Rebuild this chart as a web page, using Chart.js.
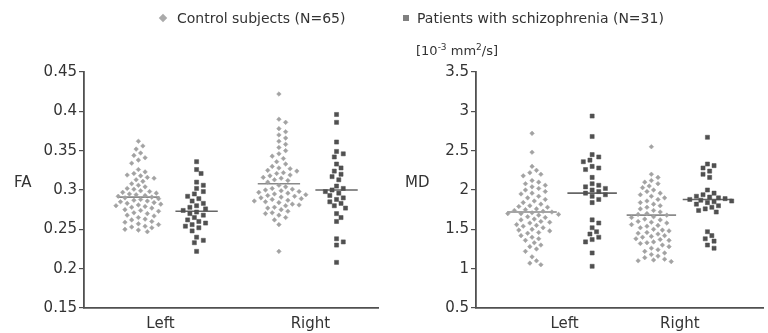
<!DOCTYPE html>
<html>
<head>
<meta charset="utf-8">
<script src="https://cdn.jsdelivr.net/npm/chart.js@4.4.1/dist/chart.umd.min.js"></script>
<style>
  body { margin: 0; background: #fff; }
  #wrap { position: relative; width: 768px; height: 333px; font-family: "DejaVu Sans", sans-serif; color: #333; }
  canvas { position: absolute; top: 0; }
  .txt { position: absolute; white-space: nowrap; line-height: 1; }
  .mark { position: absolute; width: 6px; height: 6px; }
</style>
</head>
<body>
<div id="wrap">
  <canvas id="faChart" width="384" height="333" style="left:0"></canvas>
  <canvas id="mdChart" width="384" height="333" style="left:384px"></canvas>

  <div class="mark" style="left:160px; top:15px; background:#aaa; transform:rotate(45deg)"></div>
  <div class="txt" style="left:177px; top:11px; font-size:14px">Control subjects (N=65)</div>
  <div class="mark" style="left:403px; top:15px; background:#808080"></div>
  <div class="txt" style="left:417px; top:11px; font-size:14px">Patients with schizophrenia (N=31)</div>

  <div class="txt" style="left:416px; top:43px; font-size:13px">[10<sup style="font-size:9px">-3</sup> mm<sup style="font-size:9px">2</sup>/s]</div>
  <div class="txt" style="left:14px; top:175px; font-size:15px">FA</div>
  <div class="txt" style="left:405px; top:175px; font-size:15px">MD</div>
</div>

<script>
// ---- data ----
const groupLabels = ["Left", "Right"];

const faTicks = [0.15, 0.2, 0.25, 0.3, 0.35, 0.4, 0.45];
const mdTicks = [0.5, 1, 1.5, 2, 2.5, 3, 3.5];

const faControlLeft = [0.362, 0.356, 0.352, 0.347, 0.344, 0.341, 0.338, 0.334,
  0.326, 0.323, 0.321, 0.319, 0.318, 0.316, 0.315, 0.313, 0.311,
  0.308, 0.306, 0.304, 0.302, 0.301, 0.299, 0.298, 0.297, 0.296, 0.295, 0.294, 0.293, 0.292,
  0.291, 0.290, 0.289, 0.288, 0.287, 0.286, 0.285, 0.284, 0.283, 0.282, 0.281,
  0.280, 0.279, 0.278, 0.277, 0.275, 0.274, 0.273, 0.271, 0.270, 0.268, 0.267,
  0.265, 0.263, 0.262, 0.260, 0.259, 0.257, 0.256, 0.254, 0.253, 0.252, 0.250, 0.249, 0.247];
const faPatientLeft = [0.336, 0.326, 0.321, 0.310, 0.306, 0.302, 0.298, 0.295, 0.292, 0.289,
  0.286, 0.283, 0.280, 0.278, 0.276, 0.274, 0.272, 0.270, 0.268, 0.265,
  0.262, 0.260, 0.258, 0.256, 0.254, 0.252, 0.248, 0.240, 0.236, 0.233, 0.222];
const faControlRight = [0.422, 0.390, 0.386, 0.378, 0.374, 0.370, 0.366, 0.362, 0.358, 0.354, 0.350, 0.346, 0.343, 0.340, 0.336, 0.333,
  0.330, 0.328, 0.327, 0.325, 0.324, 0.322, 0.321, 0.319, 0.318, 0.316, 0.315, 0.313, 0.312, 0.310,
  0.306, 0.304, 0.302, 0.301, 0.300, 0.299, 0.298, 0.297, 0.296, 0.295, 0.294, 0.293, 0.292, 0.291, 0.290,
  0.289, 0.288, 0.287, 0.286, 0.285, 0.284, 0.282, 0.281, 0.280, 0.278, 0.277, 0.275, 0.273, 0.271, 0.270,
  0.268, 0.265, 0.262, 0.256, 0.222];
const faPatientRight = [0.396, 0.386, 0.361, 0.349, 0.346, 0.342, 0.333, 0.328, 0.324, 0.320,
  0.317, 0.313, 0.305, 0.302, 0.300, 0.298, 0.296, 0.293, 0.290, 0.288,
  0.285, 0.283, 0.280, 0.277, 0.270, 0.265, 0.260, 0.238, 0.234, 0.230, 0.208];

const mdControlLeft = [2.72, 2.48, 2.30, 2.25, 2.22, 2.20, 2.18, 2.12, 2.10, 2.08, 2.06, 2.04, 2.02, 2.00, 1.98, 1.96, 1.95,
  1.92, 1.90, 1.88, 1.86, 1.84, 1.82, 1.80, 1.79, 1.78, 1.76, 1.75, 1.74, 1.73, 1.72, 1.71, 1.70, 1.70, 1.69, 1.68,
  1.66, 1.65, 1.63, 1.62, 1.60, 1.59, 1.58, 1.56, 1.55, 1.54, 1.52, 1.50, 1.49, 1.48, 1.46, 1.45,
  1.42, 1.40, 1.38, 1.36, 1.33, 1.30, 1.28, 1.25, 1.22, 1.15, 1.10, 1.07, 1.05];
const mdPatientLeft = [2.94, 2.68, 2.45, 2.42, 2.38, 2.36, 2.30, 2.28, 2.26, 2.16,
  2.08, 2.06, 2.04, 2.02, 2.00, 1.98, 1.96, 1.94, 1.92, 1.88,
  1.84, 1.62, 1.58, 1.52, 1.47, 1.44, 1.40, 1.37, 1.34, 1.20, 1.03];
const mdControlRight = [2.55, 2.20, 2.16, 2.12, 2.10, 2.08, 2.05, 2.03, 2.00, 1.98, 1.96, 1.94, 1.92, 1.90, 1.88, 1.86, 1.84, 1.82, 1.80,
  1.78, 1.76, 1.74, 1.72, 1.70, 1.69, 1.68, 1.66, 1.65, 1.63, 1.62, 1.60, 1.59, 1.58, 1.56, 1.55, 1.54, 1.52,
  1.50, 1.49, 1.48, 1.46, 1.45, 1.44, 1.42, 1.41, 1.40, 1.38, 1.37, 1.36, 1.34, 1.33, 1.32, 1.30,
  1.28, 1.26, 1.24, 1.22, 1.20, 1.18, 1.16, 1.14, 1.12, 1.11, 1.10, 1.09];
const mdPatientRight = [2.67, 2.33, 2.31, 2.28, 2.24, 2.20, 2.16, 2.00, 1.96, 1.94,
  1.92, 1.91, 1.90, 1.89, 1.88, 1.87, 1.86, 1.85, 1.84, 1.82,
  1.80, 1.78, 1.76, 1.74, 1.72, 1.47, 1.42, 1.38, 1.35, 1.30, 1.26];

// group means (horizontal bars): [control L, patient L, control R, patient R]
const faMeans = [0.291, 0.273, 0.308, 0.300];
const mdMeans = [1.72, 1.96, 1.68, 1.88];

// ---- drawing ----
const CONTROL = "#a2a2a2";
const PATIENT = "#505050";
const AXIS = "#505050";
const FONT = { family: "DejaVu Sans", size: 15 };

// simple deterministic beeswarm: offsets in px so dots do not overlap
function swarm(values, center, pxX, pxY, gap) {
  const placed = [];
  return values.map((v) => {
    const yp = v * pxY;
    let off = 0;
    for (let i = 0; i < 400; i++) {
      off = i === 0 ? 0 : (i % 2 ? 1 : -1) * Math.ceil(i / 2) * gap * 0.4;
      if (placed.every((p) => Math.hypot(p.x - off, p.y - yp) >= gap)) break;
    }
    placed.push({ x: off, y: yp });
    return { x: center + off / pxX, y: v };
  });
}

function makeChart(id, opts) {
  const { groups, means, centers, labelPos, ticks, yMin, yMax, axisWidth, padRight, halfWidth } = opts;
  const areaW = 384 - axisWidth - padRight;
  const pxX = areaW / 10;
  const pxY = 236 / (yMax - yMin);

  const ctrlPts = [].concat(swarm(groups[0], centers[0], pxX, pxY, 5.6), swarm(groups[2], centers[2], pxX, pxY, 5.6));
  const patPts = [].concat(swarm(groups[1], centers[1], pxX, pxY, 5.6), swarm(groups[3], centers[3], pxX, pxY, 5.6));

  const meanSets = means.map((m, i) => ({
    type: "line",
    data: [{ x: centers[i] - halfWidth, y: m }, { x: centers[i] + halfWidth, y: m }],
    borderColor: i % 2 ? "#666" : "#8a8a8a",
    borderWidth: 1.6,
    pointRadius: 0,
  }));

  new Chart(document.getElementById(id), {
    type: "scatter",
    data: {
      datasets: [
        { data: ctrlPts, pointStyle: "rectRot", pointRadius: 2.3, backgroundColor: CONTROL, borderColor: CONTROL, borderWidth: 0.5 },
        { data: patPts, pointStyle: "rect", pointRadius: 2.9, backgroundColor: PATIENT, borderColor: PATIENT, borderWidth: 0.5 },
        ...meanSets,
      ],
    },
    options: {
      responsive: false,
      animation: false,
      devicePixelRatio: 1,
      layout: { padding: { top: 72, right: padRight, left: 0, bottom: 0 } },
      plugins: { legend: { display: false }, tooltip: { enabled: false } },
      scales: {
        x: {
          type: "linear",
          min: 0,
          max: 10,
          afterFit: (s) => { s.height = 25; },
          afterBuildTicks: (s) => { s.ticks = labelPos.map((v) => ({ value: v })); },
          ticks: {
            font: FONT,
            color: "#333",
            padding: 7,
            maxRotation: 0,
            callback: (v, i) => groupLabels[i],
          },
          grid: { display: false, drawTicks: false },
          border: { display: true, color: AXIS, width: 1.8 },
        },
        y: {
          min: yMin,
          max: yMax,
          afterFit: (s) => { s.width = axisWidth; },
          afterBuildTicks: (s) => { s.ticks = ticks.map((v) => ({ value: v })); },
          ticks: {
            font: FONT,
            color: "#333",
            padding: 2,
            callback: (v) => String(+v.toFixed(2)),
          },
          grid: { drawOnChartArea: false, drawTicks: true, tickLength: 5, color: AXIS, lineWidth: 1.2 },
          border: { display: true, color: AXIS, width: 1.8 },
        },
      },
    },
  });
}

makeChart("faChart", {
  groups: [faControlLeft, faPatientLeft, faControlRight, faPatientRight],
  means: faMeans,
  centers: [1.85, 3.83, 6.63, 8.59],
  labelPos: [2.6, 7.7],
  ticks: faTicks,
  yMin: 0.15,
  yMax: 0.45,
  axisWidth: 84,
  padRight: 6,
  halfWidth: 0.72,
});

makeChart("mdChart", {
  groups: [mdControlLeft, mdPatientLeft, mdControlRight, mdPatientRight],
  means: mdMeans,
  centers: [1.95, 4.04, 6.1, 8.05],
  labelPos: [3.08, 7.09],
  ticks: mdTicks,
  yMin: 0.5,
  yMax: 3.5,
  axisWidth: 92,
  padRight: 0,
  halfWidth: 0.86,
});
</script>
</body>
</html>
